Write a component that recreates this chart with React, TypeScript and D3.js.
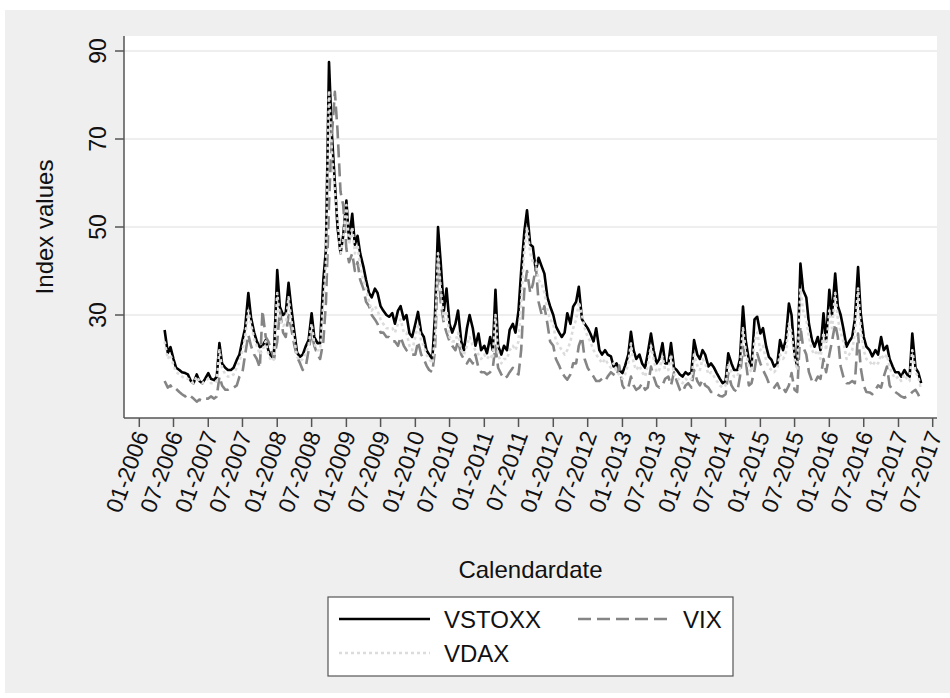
import React, { useRef, useEffect } from 'react';
import * as d3 from 'd3';

// semi-monthly readings (1st and 15th), 15 May 2006 .. 1 May 2017
const vstoxx = [
  26.6, 21.4, 22.7, 20, 18, 17.5, 17, 16.8, 16.5, 15, 14.5, 16.5, 15, 14.5, 15.5,
  16.8, 15.5, 15.2, 16, 23.6, 19, 18, 17.5, 17.5, 18, 19.8, 21, 24.3, 27, 35, 29.5, 26, 24, 22.7, 23, 24.3, 22, 20.5, 21.4,
  40.2, 31.8, 30, 30.5, 37.3, 31.8, 26, 21.4, 20.5, 21, 23, 24.3, 30.4, 25, 23.6, 23.6, 38, 45, 87.5, 72, 60, 50, 44, 48,
  56, 47, 53, 46, 48, 44, 41, 38, 35, 34, 36, 35, 32, 31, 30, 29.6, 30.4, 28, 31, 32, 29, 30, 25.8, 25,
  28, 30.7, 26, 25, 22, 21, 20, 30, 50, 42, 31, 36, 28, 26, 28, 31, 24, 22, 27, 30, 27, 23, 25.8, 22,
  23, 21.3, 25, 22, 35.7, 23, 21, 23, 22, 26.6, 28, 26, 31, 40, 49, 53.8, 46, 45.5, 40, 43, 41, 39.4, 34, 32,
  30, 27.4, 26, 25, 26, 30.4, 28, 31.9, 33, 36.4, 29, 28, 27, 25.8, 24, 27, 22, 21, 22, 21, 20.6, 18.3, 19, 17.5,
  16.8, 18.5, 21, 26.2, 22, 20, 21, 19, 18, 21.3, 25.8, 22, 19, 20, 23.6, 19, 19, 23.6, 18, 17.5, 16.5, 16, 17, 16.5,
  17, 24.3, 21, 20, 22, 21, 18.3, 19, 18, 16.8, 15.5, 14.5, 15, 21.3, 19, 17.5, 17.5, 20, 31.9, 24.3, 19.8, 18.3, 29, 29.6,
  25.8, 27, 22.8, 20.5, 19.8, 18.3, 19, 24.3, 22, 24.3, 32.6, 30, 21, 18.3, 41.7, 35.7, 34, 28, 24.3, 22.8, 25, 22, 30.4, 24,
  35.7, 30, 39.4, 32, 30, 27, 22.8, 24, 25, 29, 40.9, 30.4, 25, 22.8, 22, 20.6, 22, 21, 25, 22, 23, 20, 18.3, 17,
  17, 16, 17.5, 16.5, 16, 25.8, 18, 17, 14.5,
];

const vix = [
  15, 13.5, 14, 13, 13.2, 12.5, 12, 11.5, 12, 11.5, 11, 10.3, 10.8, 10.5, 11,
  11, 11.5, 11, 11.5, 16, 14, 13, 13, 13.5, 13.5, 14, 16, 17, 21, 25.5, 23, 21, 20, 18, 31, 25, 24, 22, 20,
  24, 31, 26, 25, 30, 27, 23, 20.5, 19, 17.5, 18.5, 22, 26, 23, 21, 20, 24, 33, 55, 70, 80.7, 72, 58, 55,
  45, 42, 44, 40, 42, 38, 36, 33, 32, 30, 29, 28, 26, 26, 25, 25, 24, 24, 23, 25, 23, 22, 21.5, 21,
  21, 24, 21, 20, 18.5, 17.5, 17, 22, 42, 33, 28, 26, 24, 23, 22, 24, 21, 20, 19, 20, 19, 21, 18, 17,
  17, 16.5, 17, 18, 23, 18, 16.5, 15.5, 16, 17, 18, 17, 16.5, 22, 36, 40, 35, 37, 41, 33, 30, 32, 28, 24,
  23, 20, 18.5, 17, 16, 15.3, 16.5, 19, 19, 23, 25, 20, 18, 17, 16, 15, 15, 15.5, 15, 16, 17, 16.5, 16, 18.5,
  14, 13, 13.5, 16, 14, 13, 13.5, 14.5, 13, 13.5, 18.3, 16, 14, 13.5, 14, 15.5, 16, 14, 17, 15, 13, 12.5, 14, 14.5,
  13.5, 17.5, 15, 14, 15.3, 14, 13.5, 12.5, 12.5, 12, 11.6, 11.5, 12, 16.8, 14, 13, 12.5, 16, 22.8, 19.8, 14, 14.5, 17.5, 21.3,
  19, 17.5, 16, 14.5, 14, 13.5, 14.5, 13, 13.5, 12.5, 14, 16.8, 13, 12.5, 27.4, 22.8, 21, 17, 15, 14.5, 16, 15.5, 20, 17,
  21, 24, 28, 25, 18.3, 16, 14.5, 14.5, 15, 14.5, 25.8, 18, 14, 12.5, 12.4, 12, 13, 14, 13.5, 16, 18.3, 14, 13, 12.5,
  12, 11.5, 11.2, 11.5, 11.8, 12.5, 13, 12, 10.5,
];

const vdax = [
  24, 20, 21, 18.5, 17, 16.5, 16, 15.5, 15.5, 15, 14.5, 16, 15, 14.5, 15,
  15.5, 14.5, 14.5, 15, 22, 18, 16.5, 16, 16, 16.5, 18, 19.5, 22, 25, 31, 28, 24.5, 23, 21, 22, 24, 21, 19.5, 20,
  35, 29, 27.5, 28, 34, 29, 24.5, 20.5, 19.5, 20, 21.5, 23, 28, 23.5, 22, 22, 33, 42, 81, 68, 58, 52, 44, 47,
  55, 46, 50, 44, 46, 41, 38, 36, 33, 31, 32, 31, 29, 28, 27, 27, 27, 26, 28, 29, 26, 26, 23, 22,
  25, 28, 24, 23, 21, 20, 19, 25, 44, 36, 29, 31, 25, 24, 24, 26, 22, 21, 23, 25, 23, 22, 21, 20,
  21, 20, 21, 20, 30, 21, 19, 20, 20, 22, 23, 22, 24, 33, 45, 50, 44, 42, 42, 38, 37, 35, 31, 29,
  28, 24, 23, 22, 21, 22, 24, 27, 29, 33, 30, 27, 25, 24, 22, 21, 20, 19, 20, 19, 18, 19, 17, 16.5,
  15.5, 16.5, 19, 23.5, 19, 17.5, 18.5, 17, 16, 18.5, 23, 20, 17, 17.5, 20.5, 17.5, 17.5, 21, 16.5, 16, 15, 14.5, 15.5, 15,
  15.5, 21, 18.5, 17.5, 20, 19, 16.5, 17, 16, 15, 14, 13.5, 14, 19, 17, 16, 16, 18, 27, 22, 18, 17, 24, 26,
  22, 23, 19.5, 18, 17.5, 17, 18, 21, 20, 21, 28, 26, 20, 17.5, 36, 31, 29, 25, 22, 21, 22, 20, 26, 22,
  31, 27, 35, 29, 26, 24, 20, 21, 22, 26, 36, 27, 22, 20, 19.5, 18.5, 19.5, 19, 21, 20, 21, 18, 16.5, 15.5,
  16, 15, 16.5, 15.5, 15, 22, 17, 16, 13,
];

const yTicks = [30, 50, 70, 90];

const seriesNames = ['VSTOXX', 'VIX', 'VDAX'];
const seriesColors = ['#000000', '#858585', '#dcdcdc'];
const seriesDashes = [null, '13 6', '3 3'];

// period dates: 1st / 15th of each month starting 15 May 2006
const periods = d3.range(vstoxx.length).map(i => new Date(2006, 4 + Math.ceil(i / 2), i % 2 === 0 ? 15 : 1));

const FONT = '"Liberation Sans", Arial, sans-serif';

const App = () => {
  const svgRef = useRef(null);

  useEffect(() => {
    const width = 950;
    const height = 698;
    const plot = { left: 124, right: 937, top: 36, bottom: 418 };

    const svg = d3.select(svgRef.current);
    svg.selectAll('*').remove();

    const x = d3.scaleTime()
      .domain([new Date(2006, 0, 1), new Date(2017, 6, 1)])
      .range([139.3, 932.7]);

    const y = d3.scaleLinear()
      .domain([10, 90])
      .range([403, 51]);

    // backgrounds
    svg.append('rect').attr('width', width).attr('height', height).attr('fill', '#ffffff');
    svg.append('rect').attr('x', 5).attr('y', 10).attr('width', 945).attr('height', 683).attr('fill', '#efefef');
    svg.append('rect')
      .attr('x', plot.left).attr('y', plot.top)
      .attr('width', plot.right - plot.left).attr('height', plot.bottom - plot.top)
      .attr('fill', '#ffffff');

    // gridlines
    svg.append('g')
      .selectAll('line')
      .data(yTicks)
      .enter()
      .append('line')
      .attr('x1', plot.left).attr('x2', plot.right)
      .attr('y1', d => y(d)).attr('y2', d => y(d))
      .attr('stroke', '#e8e8e8')
      .attr('stroke-width', 1.5);

    // data lines
    const chartLine = d3.line<number>()
      .x((d, i) => x(periods[i]))
      .y(d => y(d));

    [vstoxx, vix, vdax].forEach((values, k) => {
      const path = svg.append('path')
        .attr('d', chartLine(values))
        .attr('fill', 'none')
        .attr('stroke', seriesColors[k])
        .attr('stroke-width', 2.6)
        .attr('stroke-linejoin', 'round');
      if (seriesDashes[k]) path.attr('stroke-dasharray', seriesDashes[k]);
    });

    // axes lines
    svg.append('line')
      .attr('x1', plot.left).attr('x2', plot.left)
      .attr('y1', plot.top).attr('y2', plot.bottom)
      .attr('stroke', '#555555').attr('stroke-width', 1.5);
    svg.append('line')
      .attr('x1', plot.left).attr('x2', plot.right)
      .attr('y1', plot.bottom).attr('y2', plot.bottom)
      .attr('stroke', '#555555').attr('stroke-width', 1.5);

    // y ticks + labels
    const yAxis = svg.append('g');
    yTicks.forEach(v => {
      yAxis.append('line')
        .attr('x1', plot.left - 9).attr('x2', plot.left)
        .attr('y1', y(v)).attr('y2', y(v))
        .attr('stroke', '#555555').attr('stroke-width', 1.5);
      yAxis.append('text')
        .attr('transform', `translate(106, ${y(v)}) rotate(-90)`)
        .attr('text-anchor', 'middle')
        .attr('font-family', FONT)
        .attr('font-size', 23)
        .attr('fill', '#111111')
        .text(v);
    });

    // x ticks + labels
    const xTicks = d3.timeMonth.every(6).range(new Date(2006, 0, 1), new Date(2017, 6, 2));
    const fmt = d3.timeFormat('%m-%Y');
    const xAxis = svg.append('g');
    xTicks.forEach(t => {
      xAxis.append('line')
        .attr('x1', x(t)).attr('x2', x(t))
        .attr('y1', plot.bottom).attr('y2', plot.bottom + 9)
        .attr('stroke', '#555555').attr('stroke-width', 1.5);
      xAxis.append('text')
        .attr('transform', `translate(${x(t) + 2}, ${plot.bottom + 14}) rotate(-70)`)
        .attr('text-anchor', 'end')
        .attr('dy', '0.36em')
        .attr('font-family', FONT)
        .attr('font-size', 23)
        .attr('fill', '#111111')
        .text(fmt(t));
    });

    // axis titles
    svg.append('text')
      .attr('transform', `translate(53, ${(plot.top + plot.bottom) / 2}) rotate(-90)`)
      .attr('text-anchor', 'middle')
      .attr('font-family', FONT)
      .attr('font-size', 24)
      .attr('fill', '#111111')
      .text('Index values');

    svg.append('text')
      .attr('x', (plot.left + plot.right) / 2)
      .attr('y', 578)
      .attr('text-anchor', 'middle')
      .attr('font-family', FONT)
      .attr('font-size', 24)
      .attr('fill', '#111111')
      .text('Calendardate');

    // legend
    const legend = svg.append('g');
    legend.append('rect')
      .attr('x', 328).attr('y', 597)
      .attr('width', 405).attr('height', 79)
      .attr('fill', '#ffffff')
      .attr('stroke', '#555555').attr('stroke-width', 1.2);

    const legendPos = [
      { x: 339, y: 619 },
      { x: 578, y: 619 },
      { x: 339, y: 653 },
    ];
    seriesNames.forEach((name, k) => {
      const p = legendPos[k];
      const l = legend.append('line')
        .attr('x1', p.x).attr('x2', p.x + 91)
        .attr('y1', p.y).attr('y2', p.y)
        .attr('stroke', seriesColors[k])
        .attr('stroke-width', 2.4);
      if (seriesDashes[k]) l.attr('stroke-dasharray', seriesDashes[k]);
      legend.append('text')
        .attr('x', p.x + 105)
        .attr('y', p.y + 8.5)
        .attr('font-family', FONT)
        .attr('font-size', 24)
        .attr('fill', '#111111')
        .text(name);
    });
  }, []);

  return (
    <svg ref={svgRef} width={950} height={698} style={{ position: 'absolute', left: 0, top: 0 }}></svg>
  );
};

export default App;
